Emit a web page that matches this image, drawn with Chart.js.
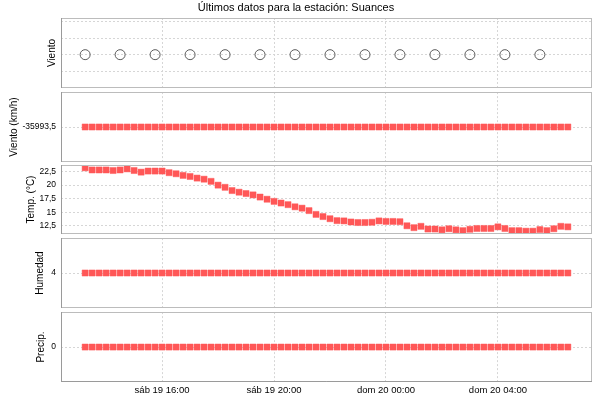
<!DOCTYPE html>
<html><head><meta charset="utf-8">
<script src="https://cdn.jsdelivr.net/npm/chart.js@4.4.1/dist/chart.umd.min.js"></script>
<style>
html,body{margin:0;padding:0;background:#fff;}
#wrap{position:relative;width:600px;height:400px;overflow:hidden;background:#fff;}
#wrap canvas{position:absolute;left:0;}
</style></head><body><div id="wrap"></div>
<script>
// ---------- data ----------
const times = [
 "13:15","13:30","13:45","14:00","14:15","14:30","14:45","15:00","15:15","15:30",
 "15:45","16:00","16:15","16:30","16:45","17:00","17:15","17:30","17:45","18:00",
 "18:15","18:30","18:45","19:00","19:15","19:30","19:45","20:00","20:15","20:30",
 "20:45","21:00","21:15","21:30","21:45","22:00","22:15","22:30","22:45","23:00",
 "23:15","23:30","23:45","00:00","00:15","00:30","00:45","01:00","01:15","01:30",
 "01:45","02:00","02:15","02:30","02:45","03:00","03:15","03:30","03:45","04:00",
 "04:15","04:30","04:45","05:00","05:15","05:30","05:45","06:00","06:15","06:30"
];
const temperature = [
 23.2,22.8,22.8,22.8,22.7,22.8,23.0,22.7,22.4,22.6,
 22.6,22.6,22.3,22.1,21.8,21.6,21.3,21.1,20.7,20.0,
 19.6,19.0,18.7,18.45,18.2,17.8,17.4,17.0,16.7,16.4,
 16.0,15.75,15.3,14.6,14.2,13.8,13.45,13.4,13.2,13.1,
 13.1,13.15,13.4,13.3,13.3,13.25,12.5,12.15,12.4,11.9,
 11.9,11.75,11.95,11.75,11.6,11.85,12.0,12.0,12.0,12.3,
 12.0,11.6,11.6,11.5,11.5,11.8,11.6,11.95,12.4,12.3
];
const windTimes = ["13:15","14:30","15:45","17:00","18:15","19:30","20:45","22:00","23:15","00:30","01:45","03:00","04:15","05:30"];
const windLevel = [0,0,0,0,0,0,0,0,0,0,0,0,0,0];
const windKmh = [
 -35993.5,-35993.5,-35993.5,-35993.5,-35993.5,-35993.5,-35993.5,-35993.5,-35993.5,-35993.5,
 -35993.5,-35993.5,-35993.5,-35993.5,-35993.5,-35993.5,-35993.5,-35993.5,-35993.5,-35993.5,
 -35993.5,-35993.5,-35993.5,-35993.5,-35993.5,-35993.5,-35993.5,-35993.5,-35993.5,-35993.5,
 -35993.5,-35993.5,-35993.5,-35993.5,-35993.5,-35993.5,-35993.5,-35993.5,-35993.5,-35993.5,
 -35993.5,-35993.5,-35993.5,-35993.5,-35993.5,-35993.5,-35993.5,-35993.5,-35993.5,-35993.5,
 -35993.5,-35993.5,-35993.5,-35993.5,-35993.5,-35993.5,-35993.5,-35993.5,-35993.5,-35993.5,
 -35993.5,-35993.5,-35993.5,-35993.5,-35993.5,-35993.5,-35993.5,-35993.5,-35993.5,-35993.5
];
const humidity = [
 4,4,4,4,4,4,4,4,4,4, 4,4,4,4,4,4,4,4,4,4, 4,4,4,4,4,4,4,4,4,4,
 4,4,4,4,4,4,4,4,4,4, 4,4,4,4,4,4,4,4,4,4, 4,4,4,4,4,4,4,4,4,4,
 4,4,4,4,4,4,4,4,4,4
];
const precip = [
 0,0,0,0,0,0,0,0,0,0, 0,0,0,0,0,0,0,0,0,0, 0,0,0,0,0,0,0,0,0,0,
 0,0,0,0,0,0,0,0,0,0, 0,0,0,0,0,0,0,0,0,0, 0,0,0,0,0,0,0,0,0,0,
 0,0,0,0,0,0,0,0,0,0
];
const windGridTicks = [-1, 0, 1, 2];
const windKmhTicks = [-35993.5];
const tempTicks = [12.5, 15, 17.5, 20, 22.5];
const humidityTicks = [4];
const precipTicks = [0];
const tickTimes = ["16:00","20:00","00:00","04:00"];
const tickLabels = ["sáb 19 16:00","sáb 19 20:00","dom 20 00:00","dom 20 04:00"];
const chartTitle = "Últimos datos para la estación: Suances";

// ---------- style / layout ----------
const FONT = "'Liberation Sans', Arial, sans-serif";
const GRID = '#d6d6d6';
const LEFT = 61;
const RIGHT_PAD = 8;
const n = times.length;
const xPad = (n - 1) * 0.05;
const xTickVals = tickTimes.map(t => times.indexOf(t));
const fmt = v => String(v).replace('.', ',');
const pts = arr => arr.map((v, i) => ({x: i, y: v}));

const panelBorder = {
  id: 'panelBorder',
  afterDatasetsDraw(chart, args, opts) {
    const {ctx, chartArea: a} = chart;
    const l = Math.round(a.left), t = Math.round(a.top), r = Math.round(a.right), b = Math.round(a.bottom);
    ctx.save();
    ctx.lineWidth = 1;
    ctx.strokeStyle = '#bcbcbc';
    ctx.strokeRect(l + 0.5, t + 0.5, r - l - 1, b - t - 1);
    ctx.strokeStyle = '#9a9a9a';
    ctx.beginPath();
    ctx.moveTo(l + 0.5, t); ctx.lineTo(l + 0.5, b);
    if (opts && opts.bottomDark) { ctx.moveTo(l, b - 0.5); ctx.lineTo(r, b - 0.5); }
    ctx.stroke();
    ctx.restore();
  }
};

function squares(arr) {
  return {
    data: pts(arr), showLine: false, pointStyle: 'rect',
    pointRadius: 4.3, pointHoverRadius: 4.3,
    pointBackgroundColor: '#ff5757', pointBorderColor: 'rgba(255,87,87,0.45)', pointBorderWidth: 1
  };
}

function makePanel(o) {
  const c = document.createElement('canvas');
  c.width = 600; c.height = o.ch;
  c.style.top = o.ct + 'px';
  c.style.width = '600px'; c.style.height = o.ch + 'px';
  document.getElementById('wrap').appendChild(c);
  new Chart(c, {
    type: 'scatter',
    data: {datasets: o.datasets},
    plugins: [panelBorder],
    options: {
      responsive: false, animation: false, devicePixelRatio: 1,
      layout: {padding: {top: o.padTop, bottom: o.padBottom, left: 0, right: RIGHT_PAD}},
      events: [],
      plugins: {
        legend: {display: false}, tooltip: {enabled: false},
        panelBorder: {bottomDark: !!o.last},
        title: o.title ? {display: true, text: o.title, color: '#000',
          font: {family: FONT, size: 11, weight: 'normal'}, padding: {top: 1, bottom: 3.8}} : {display: false}
      },
      scales: {
        x: {
          type: 'linear', min: -xPad, max: n - 1 + xPad,
          afterBuildTicks: s => { s.ticks = xTickVals.map(v => ({value: v})); },
          afterFit: s => { s.height = o.last ? 18 : 0; },
          ticks: {display: !!o.last, autoSkip: false, maxRotation: 0, padding: 3,
            callback: (v, i) => tickLabels[i], color: '#000', font: {family: FONT, size: 9.5}},
          grid: {color: GRID, drawTicks: false, lineWidth: 1},
          border: {display: false, dash: [2, 2]}
        },
        y: {
          type: 'linear', min: o.min, max: o.max,
          afterBuildTicks: s => { s.ticks = o.yTicks.map(v => ({value: v})); },
          afterFit: s => { s.width = LEFT; },
          ticks: {display: o.showY !== false, padding: 5, callback: v => fmt(v),
            color: '#000', font: {family: FONT, size: 8.5}},
          grid: {color: GRID, drawTicks: false, lineWidth: 1},
          border: {display: false, dash: [2, 2]},
          title: {display: true, text: o.yTitle, color: '#000',
            font: {family: FONT, size: 10}, padding: {top: o.titleX - 6, bottom: 0}}
        }
      }
    }
  });
}

// Panel 1: wind direction markers
makePanel({
  ct: 0, ch: 98, padTop: 0, padBottom: 10, title: chartTitle,
  datasets: [{
    data: windTimes.map((t, i) => ({x: times.indexOf(t), y: windLevel[i]})),
    showLine: false, pointStyle: 'circle', pointRadius: 5, pointHoverRadius: 5,
    pointBackgroundColor: 'rgba(255,255,255,0)', pointBorderColor: '#5a5a5a', pointBorderWidth: 1
  }],
  min: -2, max: 2.2, yTicks: windGridTicks, showY: false, yTitle: 'Viento', titleX: 52
});
// Panel 2: wind speed
makePanel({
  ct: 82, ch: 90, padTop: 10, padBottom: 10,
  datasets: [squares(windKmh)],
  min: windKmh[0] - 1, max: windKmh[0] + 1, yTicks: windKmhTicks, yTitle: 'Viento (km/h)', titleX: 14
});
// Panel 3: temperature
makePanel({
  ct: 155, ch: 89, padTop: 10, padBottom: 10,
  datasets: [squares(temperature)],
  min: Math.min(...temperature) - 0.5, max: Math.max(...temperature) + 0.5,
  yTicks: tempTicks, yTitle: 'Temp. (°C)', titleX: 31
});
// Panel 4: humidity
makePanel({
  ct: 228, ch: 90, padTop: 10, padBottom: 10,
  datasets: [squares(humidity)],
  min: humidity[0] - 1, max: humidity[0] + 1, yTicks: humidityTicks, yTitle: 'Humedad', titleX: 40
});
// Panel 5: precipitation
makePanel({
  ct: 302, ch: 98, padTop: 10, padBottom: 0, last: true,
  datasets: [squares(precip)],
  min: precip[0] - 1, max: precip[0] + 1, yTicks: precipTicks, yTitle: 'Precip.', titleX: 41
});
</script></body></html>
